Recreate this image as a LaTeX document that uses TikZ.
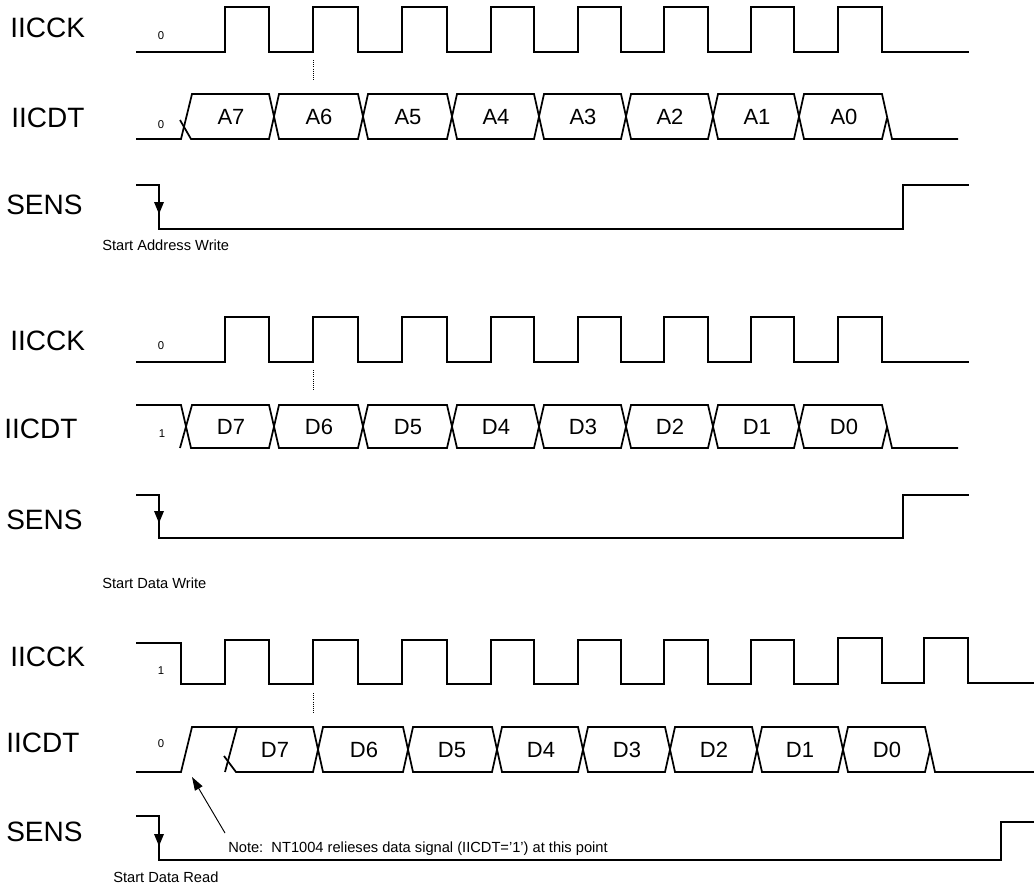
\documentclass[tikz,border=0pt]{standalone}
\usepackage{fontspec}
\setmainfont{Liberation Sans}
\usetikzlibrary{arrows.meta}
\tikzset{
  sig/.style={line width=1.3pt, line join=miter},
  biglbl/.style={anchor=west, inner sep=0pt, font=\fontsize{21}{25}\selectfont},
  celllbl/.style={inner sep=0pt, font=\fontsize{16.5}{20}\selectfont},
  lvl/.style={inner sep=0pt, font=\fontsize{8.5}{10}\selectfont},
  smalltxt/.style={anchor=west, inner sep=0pt, font=\fontsize{11}{13}\selectfont},
  notetxt/.style={anchor=base west, inner sep=0pt, font=\fontsize{11}{13}\selectfont},
  guide/.style={line width=0.6pt, densely dotted},
  edgemark/.style={fill=black},
  notearrow/.style={line width=0.7pt, -{Triangle[length=10pt,width=6.5pt]}},
}
\begin{document}
\begin{tikzpicture}[x=0.75pt,y=-0.75pt]
\useasboundingbox (0,0) rectangle (1034,885);

% ================= Section 1: address write =================
\node[biglbl] (ck1) at (10,28) {IICCK};
\node[biglbl] (dt1) at (11,118) {IICDT};
\node[biglbl] (se1) at (6,205) {SENS};
\node[lvl] (ck1v) at (161,36) {0};
\node[lvl] (dt1v) at (161,125) {0};

\draw[sig] (136,52) -- (225,52) -- (225,7) -- (269,7) -- (269,52) -- (313,52) -- (313,7) -- (358,7) -- (358,52)
  -- (402,52) -- (402,7) -- (447,7) -- (447,52) -- (491,52) -- (491,7) -- (534,7) -- (534,52)
  -- (578,52) -- (578,7) -- (621,7) -- (621,52) -- (664,52) -- (664,7) -- (708,7) -- (708,52)
  -- (751,52) -- (751,7) -- (794,7) -- (794,52) -- (838,52) -- (838,7) -- (882,7) -- (882,52) -- (969,52);
\draw[guide] (313,60) -- (313,80);

\draw[sig] (136,139) -- (181,139) -- (192,94) -- (269,94) -- (279,139) -- (358,139) -- (368,94) -- (447,94)
  -- (457,139) -- (534,139) -- (544,94) -- (621,94) -- (631,139) -- (708,139) -- (718,94) -- (794,94)
  -- (804,139) -- (882,139) -- (887,118);
\draw[sig] (180,120) -- (191,139) -- (269,139) -- (279,94) -- (358,94) -- (368,139) -- (447,139) -- (457,94)
  -- (534,94) -- (544,139) -- (621,139) -- (631,94) -- (708,94) -- (718,139) -- (794,139) -- (804,94)
  -- (882,94) -- (892,139) -- (958,139);
\foreach \c/\t [count=\i] in {231/A7,319/A6,408/A5,496/A4,583/A3,670/A2,757/A1,844/A0}
  \node[celllbl] (a\i) at (\c,117) {\t};

\draw[sig] (136,185) -- (159,185) -- (159,229) -- (903,229) -- (903,185) -- (969,185);
\fill[edgemark] (154,202) -- (164,202) -- (159,214) -- cycle;
\node[smalltxt] (st1) at (102,245) {Start Address Write};

% ================= Section 2: data write =================
\node[biglbl] (ck2) at (10,341) {IICCK};
\node[biglbl] (dt2) at (4,429) {IICDT};
\node[biglbl] (se2) at (6,520) {SENS};
\node[lvl] (ck2v) at (161,346) {0};
\node[lvl] (dt2v) at (162,434) {1};

\draw[sig] (136,362) -- (225,362) -- (225,317) -- (269,317) -- (269,362) -- (313,362) -- (313,317) -- (358,317) -- (358,362)
  -- (402,362) -- (402,317) -- (447,317) -- (447,362) -- (491,362) -- (491,317) -- (534,317) -- (534,362)
  -- (578,362) -- (578,317) -- (621,317) -- (621,362) -- (664,362) -- (664,317) -- (708,317) -- (708,362)
  -- (751,362) -- (751,317) -- (794,317) -- (794,362) -- (838,362) -- (838,317) -- (882,317) -- (882,362) -- (969,362);
\draw[guide] (313,370) -- (313,390);

\draw[sig] (136,405) -- (181,405) -- (191,448) -- (269,448) -- (279,405) -- (358,405) -- (368,448) -- (447,448)
  -- (457,405) -- (534,405) -- (544,448) -- (621,448) -- (631,405) -- (708,405) -- (718,448) -- (794,448)
  -- (804,405) -- (882,405) -- (892,448) -- (958,448);
\draw[sig] (180,448) -- (192,405) -- (269,405) -- (279,448) -- (358,448) -- (368,405) -- (447,405) -- (457,448)
  -- (534,448) -- (544,405) -- (621,405) -- (631,448) -- (708,448) -- (718,405) -- (794,405) -- (804,448)
  -- (882,448) -- (887,427);
\foreach \c/\t [count=\i] in {231/D7,319/D6,408/D5,496/D4,583/D3,670/D2,757/D1,844/D0}
  \node[celllbl] (b\i) at (\c,427) {\t};

\draw[sig] (136,495) -- (159,495) -- (159,538) -- (903,538) -- (903,495) -- (969,495);
\fill[edgemark] (154,511) -- (164,511) -- (159,523) -- cycle;
\node[smalltxt] (st2) at (102,583) {Start Data Write};

% ================= Section 3: data read =================
\node[biglbl] (ck3) at (10,657) {IICCK};
\node[biglbl] (dt3) at (6,743) {IICDT};
\node[biglbl] (se3) at (6,832) {SENS};
\node[lvl] (ck3v) at (161,671) {1};
\node[lvl] (dt3v) at (161,744) {0};

\draw[sig] (136,643) -- (181,643) -- (181,684) -- (225,684) -- (225,640) -- (269,640) -- (269,684) -- (313,684) -- (313,640)
  -- (358,640) -- (358,684) -- (402,684) -- (402,640) -- (447,640) -- (447,684) -- (491,684) -- (491,640)
  -- (534,640) -- (534,684) -- (578,684) -- (578,640) -- (621,640) -- (621,684) -- (664,684) -- (664,640)
  -- (708,640) -- (708,684) -- (751,684) -- (751,640) -- (794,640) -- (794,684) -- (838,684) -- (838,638)
  -- (882,638) -- (882,683) -- (924,683) -- (924,638) -- (968,638) -- (968,683) -- (1034,683);
\draw[guide] (313,693) -- (313,713);

\draw[sig] (136,772) -- (181,772) -- (192,727) -- (313,727) -- (323,772) -- (403,772) -- (413,727) -- (492,727)
  -- (502,772) -- (578,772) -- (588,727) -- (665,727) -- (675,772) -- (752,772) -- (762,727) -- (838,727)
  -- (848,772) -- (925,772) -- (930,750);
\draw[sig] (237,727) -- (225,772);
\draw[sig] (224,756) -- (236,772) -- (313,772) -- (323,727) -- (403,727) -- (413,772) -- (492,772) -- (502,727)
  -- (578,727) -- (588,772) -- (665,772) -- (675,727) -- (752,727) -- (762,772) -- (838,772) -- (848,727)
  -- (925,727) -- (935,772) -- (1034,772);
\foreach \c/\t [count=\i] in {275/D7,364/D6,452/D5,541/D4,627/D3,714/D2,800/D1,887/D0}
  \node[celllbl] (c\i) at (\c,750) {\t};

\draw[sig] (136,816) -- (159,816) -- (159,860) -- (1001,860) -- (1001,822) -- (1034,822);
\fill[edgemark] (154,834) -- (164,834) -- (159,846) -- cycle;
\node[smalltxt] (st3) at (113,877) {Start Data Read};

\node[notetxt] (note) at (228,852) {Note:\ \ NT1004 relieses data signal (IICDT='1') at this point};
\coordinate (notetail) at (225,833);
\coordinate (notetip) at (192,777);
\draw[notearrow] (notetail) -- (notetip);

\end{tikzpicture}
\end{document}
